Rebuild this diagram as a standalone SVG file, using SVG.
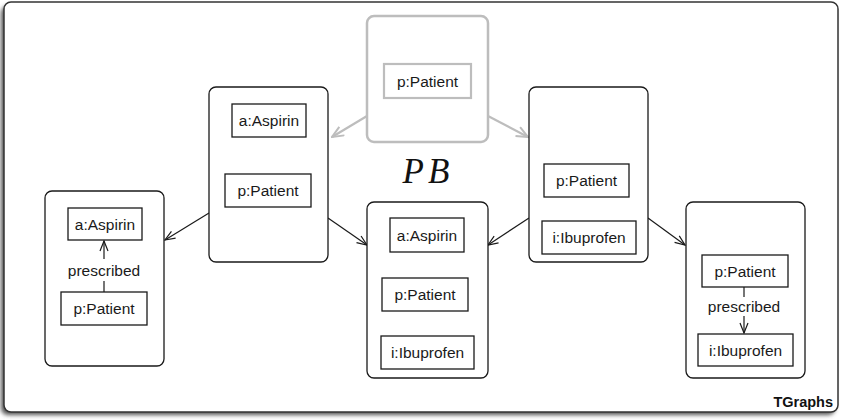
<svg xmlns="http://www.w3.org/2000/svg" width="843" height="420" viewBox="0 0 843 420">
  <style>
    .graph { fill: #fff; stroke: #1a1a1a; stroke-width: 1.3; }
    .vert { fill: #fff; stroke: #1a1a1a; stroke-width: 1.3; }
    .lbl { font-family: "Liberation Sans", Arial, sans-serif; font-size: 15.5px; fill: #1a1a1a; text-anchor: middle; }
    .pgraph { fill: #fff; stroke: #bdbdbd; stroke-width: 2.5; }
    .pvert { fill: #fff; stroke: #bdbdbd; stroke-width: 2.2; }
    .edge { fill: none; stroke: #1a1a1a; stroke-width: 1.2; }
    .pedge { fill: none; stroke: #bdbdbd; stroke-width: 2.2; }
  </style>
  <defs>
    <marker id="open" viewBox="0 0 12 10" refX="11" refY="5" markerWidth="12" markerHeight="10" markerUnits="userSpaceOnUse" orient="auto">
      <path d="M1,1 L11,5 L1,9" fill="none" stroke="#1a1a1a" stroke-width="1.2"/>
    </marker>
    <marker id="openGray" viewBox="0 0 14 12" refX="12.5" refY="6" markerWidth="14" markerHeight="12" markerUnits="userSpaceOnUse" orient="auto">
      <path d="M1,1 L12.5,6 L1,11" fill="none" stroke="#bdbdbd" stroke-width="2"/>
    </marker>
    <filter id="shadow" x="-5%" y="-5%" width="110%" height="115%">
      <feGaussianBlur stdDeviation="2"/>
    </filter>
  </defs>

  <!-- outer frame with drop shadow -->
  <rect x="1" y="6" width="834" height="409" rx="7" fill="#555" filter="url(#shadow)"/>
  <rect x="4" y="2" width="834" height="410" rx="7" fill="#fff" stroke="#333" stroke-width="1.5"/>
  <text x="833" y="407" font-family="Liberation Sans, Arial, sans-serif" font-size="14.5" font-weight="bold" text-anchor="end" fill="#111">TGraphs</text>

  <!-- pullback label -->
  <text x="428" y="183" font-family="Liberation Serif, Times New Roman, serif" font-style="italic" font-size="35" letter-spacing="4" text-anchor="middle" fill="#111">PB</text>

  <!-- connectors -->
  <g id="connectors">
    <line class="pedge" x1="367" y1="116" x2="332" y2="137" marker-end="url(#openGray)"/>
    <line class="pedge" x1="488" y1="116" x2="528" y2="137" marker-end="url(#openGray)"/>
    <line class="edge" x1="209" y1="213" x2="165" y2="240" marker-end="url(#open)"/>
    <line class="edge" x1="328" y1="218" x2="367" y2="245" marker-end="url(#open)"/>
    <line class="edge" x1="529" y1="218" x2="488" y2="245" marker-end="url(#open)"/>
    <line class="edge" x1="648" y1="218" x2="685" y2="245" marker-end="url(#open)"/>
  </g>

  <!-- interface graph (gray) -->
  <g id="graph-top">
    <rect class="pgraph" x="367" y="16" width="121" height="126" rx="7"/>
    <rect class="pvert" x="384" y="64" width="87" height="34"/>
    <text class="lbl" x="427.5" y="86.5">p:Patient</text>
  </g>

  <!-- left middle graph -->
  <g id="graph-left">
    <rect class="graph" x="209" y="87" width="119" height="175" rx="7"/>
    <rect class="vert" x="232" y="104" width="74" height="33"/>
    <text class="lbl" x="269" y="126">a:Aspirin</text>
    <rect class="vert" x="225" y="174" width="86" height="33"/>
    <text class="lbl" x="268" y="196">p:Patient</text>
  </g>

  <!-- right middle graph -->
  <g id="graph-right">
    <rect class="graph" x="529" y="87" width="119" height="175" rx="7"/>
    <rect class="vert" x="544" y="164" width="85" height="33"/>
    <text class="lbl" x="586.5" y="186">p:Patient</text>
    <rect class="vert" x="542" y="221" width="94" height="33"/>
    <text class="lbl" x="589" y="243">i:Ibuprofen</text>
  </g>

  <!-- pushout result -->
  <g id="graph-center">
    <rect class="graph" x="367" y="202" width="121" height="176" rx="7"/>
    <rect class="vert" x="390" y="218" width="74" height="34"/>
    <text class="lbl" x="427" y="240.5">a:Aspirin</text>
    <rect class="vert" x="382" y="278" width="86" height="33"/>
    <text class="lbl" x="425" y="300">p:Patient</text>
    <rect class="vert" x="381" y="336" width="93" height="33"/>
    <text class="lbl" x="427.5" y="358">i:Ibuprofen</text>
  </g>

  <!-- left bottom graph -->
  <g id="graph-left-bottom">
    <rect class="graph" x="45" y="191" width="119" height="175" rx="7"/>
    <rect class="vert" x="68" y="208" width="74" height="32"/>
    <text class="lbl" x="105" y="229.5">a:Aspirin</text>
    <rect class="vert" x="61" y="292" width="86" height="33"/>
    <text class="lbl" x="104" y="314">p:Patient</text>
    <line class="edge" x1="104" y1="292" x2="104" y2="281"/>
    <line class="edge" x1="104" y1="259" x2="104" y2="241" marker-end="url(#open)"/>
    <text class="lbl" x="104" y="276">prescribed</text>
  </g>

  <!-- right bottom graph -->
  <g id="graph-right-bottom">
    <rect class="graph" x="686" y="202" width="119" height="176" rx="7"/>
    <rect class="vert" x="702" y="255" width="86" height="32"/>
    <text class="lbl" x="745" y="277">p:Patient</text>
    <rect class="vert" x="698" y="334" width="95" height="32"/>
    <text class="lbl" x="745.5" y="356">i:Ibuprofen</text>
    <line class="edge" x1="744" y1="287" x2="744" y2="297"/>
    <line class="edge" x1="744" y1="316" x2="744" y2="333" marker-end="url(#open)"/>
    <text class="lbl" x="744" y="312">prescribed</text>
  </g>
</svg>
